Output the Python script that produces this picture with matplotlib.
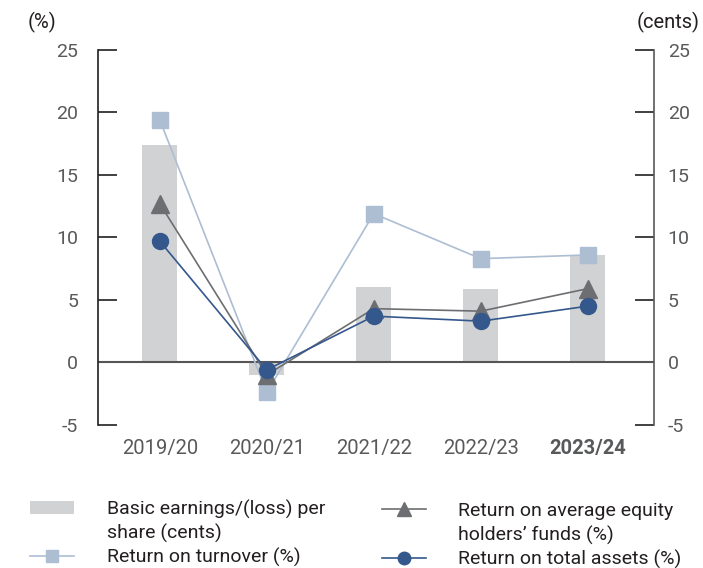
import numpy as np
import matplotlib.pyplot as plt
from matplotlib.patches import Patch
from matplotlib.lines import Line2D

plt.rcParams['font.family'] = ['Roboto', 'DejaVu Sans']
plt.rcParams['axes.unicode_minus'] = False

# DATA
years = ['2019/20', '2020/21', '2021/22', '2022/23', '2023/24']
eps_cents = [17.4, -1.0, 6.0, 5.9, 8.6]
ret_turnover = [19.4, -2.4, 11.9, 8.3, 8.6]
ret_equity = [12.7, -1.0, 4.3, 4.1, 5.9]
ret_assets = [9.7, -0.6, 3.7, 3.3, 4.5]

# COLOURS
BAR = '#d1d2d4'
SQ = '#adbdd2'
TRI = '#6d6e71'
CIR = '#34578c'
TXT = '#58595b'
DARK = '#231f20'

fig = plt.figure(figsize=(7.03, 5.68), dpi=100)
ax = fig.add_axes([0.139, 0.252, 0.791, 0.66])
ax2 = ax.twinx()

x = np.arange(len(years))
ax2.bar(x, eps_cents, width=0.33, color=BAR, zorder=1)
ax.set_zorder(ax2.get_zorder() + 1)
ax.patch.set_visible(False)

ax.axhline(0, color='#555555', lw=1.5, zorder=2)
ax.plot(x, ret_turnover, color=SQ, lw=1.2, marker='s', ms=12, zorder=3)
ax.plot(x, ret_equity, color=TRI, lw=1.2, marker='^', ms=13, zorder=4)
ax.plot(x, ret_assets, color=CIR, lw=1.2, marker='o', ms=11.5, zorder=5)

for a in (ax, ax2):
    a.set_ylim(-5, 25)
    a.set_yticks(np.arange(-5, 26, 5))
    a.set_xlim(-0.58, 4.617)
    for s in a.spines.values():
        s.set_visible(False)

ax.spines['left'].set_visible(True)
ax.spines['left'].set_color(DARK)
ax.spines['left'].set_linewidth(1.2)
ax.tick_params(axis='y', direction='in', length=14, width=1.2, color=DARK,
               labelcolor=TXT, labelsize=14, pad=14)
ax2.spines['right'].set_visible(True)
ax2.spines['right'].set_color(TXT)
ax2.spines['right'].set_linewidth(1.2)
ax2.tick_params(axis='y', direction='in', length=14, width=1.2, color=DARK,
                labelcolor=TXT, labelsize=14, pad=10)

ax.set_xticks(x)
ax.set_xticklabels(years)
ax.tick_params(axis='x', length=0, labelsize=14.5, labelcolor=TXT, pad=10)
ax.get_xticklabels()[-1].set_fontweight('bold')

fig.text(0.04, 0.961, '(%)', fontsize=14.5, color=DARK, ha='left', va='center')
fig.text(0.905, 0.961, '(cents)', fontsize=14.5, color=DARK, ha='left', va='center')

# LEGEND (second lines of the long labels get an empty handle so the
# markers line up with the first line, as in the original)
blank = Patch(visible=False)
left_h = [
    Patch(facecolor=BAR, edgecolor='none'),
    blank,
    Line2D([], [], color=SQ, lw=1.2, marker='s', ms=9),
]
left_l = ['Basic earnings/(loss) per', 'share (cents)', 'Return on turnover (%)']
right_h = [
    Line2D([], [], color=TRI, lw=1.2, marker='^', ms=10),
    blank,
    Line2D([], [], color=CIR, lw=1.2, marker='o', ms=9),
]
right_l = ['Return on average equity', 'holders\u2019 funds (%)', 'Return on total assets (%)']

opts = dict(loc='upper left', frameon=False, fontsize=14, handlelength=2.3,
            handletextpad=1.65, borderpad=0, labelcolor=DARK)
fig.legend(left_h, left_l, bbox_to_anchor=(0.0285, 0.1376), labelspacing=0.255, **opts)
fig.legend(right_h, right_l, bbox_to_anchor=(0.529, 0.133), labelspacing=0.28, **opts)

fig.savefig('out.png', dpi=100)
